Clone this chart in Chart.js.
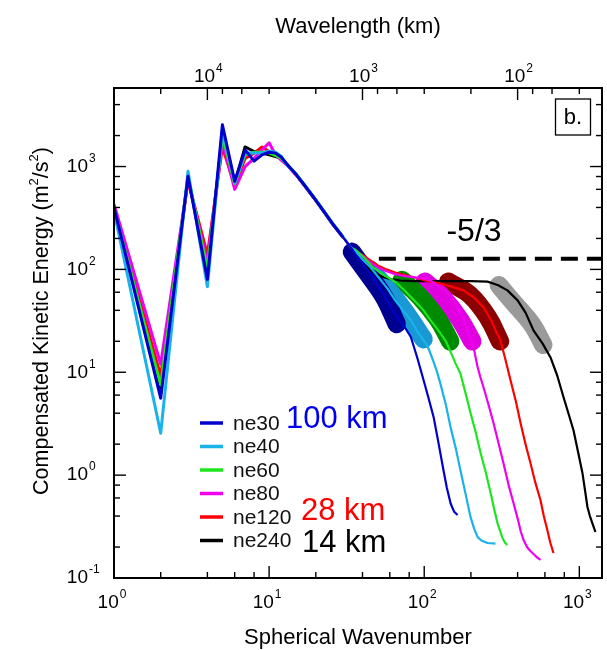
<!DOCTYPE html>
<html><head><meta charset="utf-8">
<script src="https://cdn.jsdelivr.net/npm/chart.js@4/dist/chart.umd.min.js"></script>
<style>html,body{margin:0;padding:0;background:#fff;}canvas{display:block;}</style>
</head><body>
<canvas id="c" width="607" height="650"></canvas>
<script>
const FONT = '"Liberation Sans", Arial, Helvetica, sans-serif';

// Spherical wavenumber (k) and compensated kinetic energy (E) per run
const ne30_k = [1,2,3,4,5,6,7,8,9,10,11,12,13,15,17,20,23,26,30,34,36,40,45,50,56,62,70,76,82,90,99,107,115,124,133,140,148,156,164];
const ne30_E = [400,5.6,805,80,2550,720,1450,1130,1300,1380,1350,1230,1060,830,650,470,350,270,205,160,140,115,90,70,54,41,31,26.5,22,14,8.4,5.5,3.66,2.0,1.12,0.75,0.53,0.44,0.41];

const ne40_k = [1,2,3,4,5,6,7,8,9,10,11,12,13,15,17,20,23,26,30,34,36,40,45,52,58,65,73,82,90,98,105,112,120,127,138,148,160,171,185,199,210,221,235,256,288];
const ne40_E = [370,2.55,900,68,2300,700,1350,1350,1350,1420,1380,1250,1040,840,655,475,352,272,207,162,150,125,105,80,65,50,40,32,25,21,18,14,10.5,7.8,4.8,2.9,1.8,1.12,0.65,0.39,0.3,0.25,0.23,0.219,0.216];

const ne60_k = [1,2,3,4,5,6,7,8,9,10,11,12,13,15,17,20,23,26,30,34,36,40,47,55,62,67,75,84,92,99,110,120,127,138,150,160,171,185,199,215,231,250,268,283,297,310,320,332,344];
const ne60_E = [390,7.5,800,100,2000,680,1300,1380,1380,1360,1280,1200,1050,835,652,472,350,270,206,161,155,135,104,88,79,73,62,52,45,40,32,27,24,20,15,12,9.8,6.2,4.0,2.6,1.64,1.05,0.67,0.46,0.34,0.28,0.244,0.22,0.209];

const ne80_k = [1,2,3,4,5,6,7,8,9,10,11,12,13,15,17,20,23,26,30,34,36,40,45,50,57,65,75,85,95,110,125,140,148,160,171,180,190,200,208,220,230,241,260,280,300,324,350,377,400,420,437,460,480,499,530,562];
const ne80_E = [430,12,740,120,1750,600,1000,1200,1450,1700,1300,1150,1040,820,645,468,348,268,204,160,150,135,118,105,96,90,86,84,82,78,68,60,56,45,37,32,26,21,17.5,11.5,9,7.15,4.8,3.2,2.1,1.31,0.8,0.53,0.38,0.28,0.234,0.2,0.185,0.175,0.16,0.15];

const ne120_k = [1,2,3,4,5,6,7,8,9,10,11,12,13,15,17,20,23,26,30,34,36,40,45,50,57,65,75,91,105,127,150,179,210,241,270,290,310,335,360,390,418,450,484,520,562,590,623,650,681];
const ne120_E = [390,9.2,720,140,1550,650,1200,1350,1550,1400,1300,1180,1045,825,648,470,350,270,205,160,152,138,122,110,100,93,88,82,77,73,68,62.5,53,42.8,32,25,20.5,13,8.36,5.2,3.2,2.0,1.31,0.85,0.57,0.4,0.29,0.22,0.175];

const ne240_k = [1,2,3,4,5,6,7,8,9,10,11,12,13,15,17,20,23,26,30,34,36,40,45,50,55,62,70,85,100,130,160,200,256,300,344,400,450,506,580,651,720,791,850,917,980,1047,1090,1128,1170,1214,1270];
const ne240_E = [380,7,780,100,2000,690,1550,1400,1350,1300,1250,1200,1050,830,650,470,352,272,206,162,150,115,98,89,84,80,78,77,77,77,77,77,76,70,62.5,50,38,25.6,19,14,9.3,5.72,4.0,2.73,1.7,1.05,0.7,0.49,0.4,0.34,0.28];

// Highlighted fitting ranges (thick bands)
const band30_k = [34.2,44,55,66.5];       const band30_E = [148,88,54,29.5];
const band40_k = [45,60,80,99];           const band40_E = [99,61,34,21];
const band60_k = [72,94,123,147];         const band60_E = [79,54,32.5,20];
const band80_k = [101,132,170,204];       const band80_E = [76,53,32.5,20];
const band120_k = [143,197,258,308];      const band120_E = [76,56.5,34,20];
const band240_k = [303,386,497,585];      const band240_E = [70,45.5,29,18.5];

// -5/3 reference line
const ref_k = [51,1400]; const ref_E = [127,127];

const seriesNames = ['ne30','ne40','ne60','ne80','ne120','ne240'];
const seriesColors = ['#0000cd','#1ab2ea','#1ee61e','#f000f0','#ff0000','#000000'];
const bandColors = ['#000090','#1a98d4','#008a00','#e000e0','#8b0000','#9a9a9a'];

// Axis ticks
const xMajor = [1,10,100,1000];
const yMajor = [0.1,1,10,100,1000];
const waveMajor = [1e4,1e3,1e2];       // wavelength (km)
const minorMult = [2,4,6,8];
const EARTH_CIRC_KM = 40000;           // wavelength = 40000 km / k

const pts = (k,E)=>k.map((v,i)=>({x:v,y:E[i]}));
const lineK = [ne30_k,ne40_k,ne60_k,ne80_k,ne120_k,ne240_k];
const lineE = [ne30_E,ne40_E,ne60_E,ne80_E,ne120_E,ne240_E];
const bandK = [band30_k,band40_k,band60_k,band80_k,band120_k,band240_k];
const bandE = [band30_E,band40_E,band60_E,band80_E,band120_E,band240_E];

const datasets = [];
seriesNames.forEach((n,i)=>datasets.push({label:n,data:pts(lineK[i],lineE[i]),borderColor:seriesColors[i],borderWidth:2.4,pointRadius:0,fill:false,tension:0,borderJoinStyle:'round',
  segment:{borderWidth:c=>c.p0.parsed.x<30?3:2.2}}));
datasets.push({label:'-5/3',data:pts(ref_k,ref_E),borderColor:'#000',borderWidth:4,borderDash:[17,9],pointRadius:0,fill:false});
seriesNames.forEach((n,i)=>datasets.push({label:n+' band',data:pts(bandK[i],bandE[i]),borderColor:bandColors[i],borderWidth:18.5,borderCapStyle:'round',borderJoinStyle:'round',pointRadius:0,fill:false,tension:0.4}));

function drawPow(ctx,e,cx,cy,align){
  const base='10', ex=String(e);
  ctx.font='19px '+FONT; const wb=ctx.measureText(base).width;
  ctx.font='12px '+FONT; const we=ctx.measureText(ex).width;
  const x0 = align==='center' ? cx-(wb+we+1)/2 : cx-wb;
  ctx.textAlign='left'; ctx.textBaseline='middle'; ctx.fillStyle='#000';
  ctx.font='19px '+FONT; ctx.fillText(base,x0,cy);
  ctx.font='12px '+FONT; ctx.fillText(ex,x0+wb+1,cy-8);
}

const decor = {
  id:'decor',
  afterDatasetsDraw(chart){
    const {ctx, chartArea:a, scales:{x,y}} = chart;
    ctx.save();
    ctx.strokeStyle='#000'; ctx.lineWidth=2;
    ctx.strokeRect(a.left,a.top,a.right-a.left,a.bottom-a.top);
    ctx.lineWidth=1.4;
    const seg=(x1,y1,x2,y2)=>{ctx.beginPath();ctx.moveTo(x1,y1);ctx.lineTo(x2,y2);ctx.stroke();};
    const inX=v=>v>=x.min*0.9999&&v<=x.max*1.0001;
    const inY=v=>v>=y.min*0.9999&&v<=y.max*1.0001;
    for(let d=1; d<=1000; d*=10){
      if(inX(d)){const p=x.getPixelForValue(d); seg(p,a.bottom,p,a.bottom-12);}
      minorMult.forEach(m=>{const v=d*m; if(inX(v)){const p=x.getPixelForValue(v); seg(p,a.bottom,p,a.bottom-6);}});
    }
    for(let d=10; d<=1e4; d*=10){
      if(inX(EARTH_CIRC_KM/d) && waveMajor.includes(d)){const p=x.getPixelForValue(EARTH_CIRC_KM/d); seg(p,a.top,p,a.top+12);}
      minorMult.forEach(m=>{const v=EARTH_CIRC_KM/(d*m); if(v>x.min*1.01 && v<x.max){const p=x.getPixelForValue(v); seg(p,a.top,p,a.top+6);}});
    }
    for(let d=0.1; d<=1001; d*=10){
      const dd=Math.round(d*10)/10;
      if(inY(dd)){const p=y.getPixelForValue(dd); seg(a.left,p,a.left+12,p); seg(a.right,p,a.right-12,p);}
      minorMult.forEach(m=>{const v=dd*m; if(inY(v)){const p=y.getPixelForValue(v); seg(a.left,p,a.left+6,p); seg(a.right,p,a.right-6,p);}});
    }
    xMajor.forEach(v=>drawPow(ctx,Math.round(Math.log10(v)),x.getPixelForValue(v)-2,a.bottom+25,'center'));
    yMajor.forEach(v=>drawPow(ctx,Math.round(Math.log10(v)),a.left-26,y.getPixelForValue(v),'right'));
    waveMajor.forEach(w=>drawPow(ctx,Math.round(Math.log10(w)),x.getPixelForValue(EARTH_CIRC_KM/w)+1,a.top-11,'center'));
    ctx.fillStyle='#000'; ctx.textBaseline='middle'; ctx.textAlign='center';
    ctx.font='22px '+FONT;
    const cx=(a.left+a.right)/2;
    ctx.fillText('Wavelength (km)',cx,27);
    ctx.fillText('Spherical Wavenumber',cx,638);
    ctx.save();
    ctx.translate(42,321); ctx.rotate(-Math.PI/2);
    const parts=[['Compensated Kinetic Energy (m',0],['2',1],['/s',0],['2',1],[')',0]];
    let tw=0;
    parts.forEach(p=>{ctx.font=(p[1]?'13px ':'21.5px ')+FONT; tw+=ctx.measureText(p[0]).width;});
    let px=-tw/2; ctx.textAlign='left';
    parts.forEach(p=>{ctx.font=(p[1]?'13px ':'21.5px ')+FONT; ctx.fillText(p[0],px,p[1]?-8:0); px+=ctx.measureText(p[0]).width;});
    ctx.restore();
    ctx.lineWidth=1.3;
    ctx.strokeRect(a.right-46.5,a.top+11,35,36);
    ctx.textAlign='center'; ctx.font='22px '+FONT;
    ctx.fillText('b.',a.right-29,a.top+30);
    ctx.font='32px '+FONT;
    ctx.fillText('-5/3',474,232);
    seriesNames.forEach((n,i)=>{
      const yy=423+i*23.5;
      ctx.strokeStyle=seriesColors[i]; ctx.lineWidth=3.5;
      seg(200,yy,223,yy);
      ctx.fillStyle='#111'; ctx.textAlign='left'; ctx.font='21px '+FONT;
      ctx.fillText(n,233,yy+1);
    });
    ctx.font='31px '+FONT; ctx.textAlign='left';
    ctx.fillStyle='#0000ee'; ctx.fillText('100 km',286,419);
    ctx.fillStyle='#ff0000'; ctx.fillText('28 km',301,511);
    ctx.fillStyle='#000'; ctx.fillText('14 km',302,543);
    ctx.restore();
  }
};

new Chart(document.getElementById('c'),{
  type:'line',
  data:{datasets},
  options:{
    responsive:false, animation:false, devicePixelRatio:1, events:[],
    layout:{padding:{left:114,right:5,top:88,bottom:72}},
    plugins:{legend:{display:false},tooltip:{enabled:false}},
    scales:{
      x:{type:'logarithmic',min:1,max:1400,display:false},
      y:{type:'logarithmic',min:0.1,max:5800,display:false}
    },
    elements:{point:{radius:0}}
  },
  plugins:[decor]
});
</script>
</body></html>
